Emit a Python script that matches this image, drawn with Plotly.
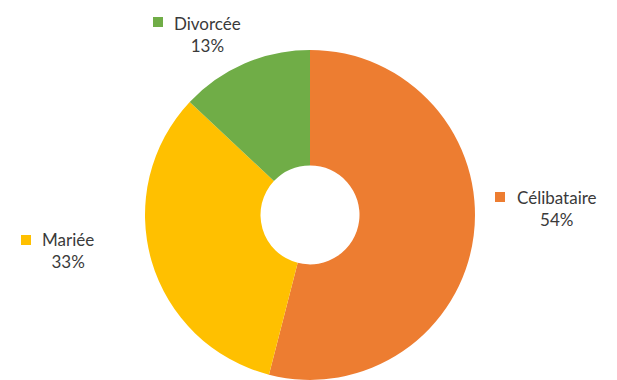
import plotly.graph_objects as go

# Data
categories = ["Célibataire", "Mariée", "Divorcée"]
shares = [54, 33, 13]
colors = ["#ED7D31", "#FFC000", "#70AD47"]

W, H = 617, 380
TEXT_COLOR = "#3a3a3a"
FONT = "Lato, 'Open Sans', sans-serif"

# label anchors (pixel centre of text block, pixel centre of key square)
label_pos = {
    "Célibataire": dict(text=(557, 208), key=(500, 197)),
    "Mariée": dict(text=(68, 250), key=(26, 240)),
    "Divorcée": dict(text=(207, 34), key=(158, 22)),
}


def px_x(x):
    return x / W


def px_y(y):
    return 1 - y / H


fig = go.Figure(
    go.Pie(
        labels=categories,
        values=shares,
        marker=dict(colors=colors, line=dict(width=0)),
        hole=0.30,
        sort=False,
        direction="clockwise",
        rotation=0,
        textinfo="none",
        hoverinfo="label+percent",
        showlegend=False,
        domain=dict(x=[145 / W, 475 / W], y=[0, 0.869]),
    )
)

annotations = []
shapes = []
for cat, val, col in zip(categories, shares, colors):
    pos = label_pos[cat]
    tx, ty = pos["text"]
    annotations.append(
        dict(
            x=px_x(tx), y=px_y(ty), xref="paper", yref="paper",
            text=f"{cat}<br>{val}%", showarrow=False,
            xanchor="center", yanchor="middle", align="center",
            font=dict(family=FONT, size=17, color=TEXT_COLOR),
        )
    )
    kx, ky = pos["key"]
    shapes.append(
        dict(
            type="rect", xref="paper", yref="paper",
            x0=px_x(kx - 5), x1=px_x(kx + 5), y0=px_y(ky + 5), y1=px_y(ky - 5),
            fillcolor=col, line=dict(width=0),
        )
    )

fig.update_layout(
    width=W, height=H,
    margin=dict(l=0, r=0, t=0, b=0),
    paper_bgcolor="white", plot_bgcolor="white",
    annotations=annotations, shapes=shapes,
)

fig.write_html("out.html")
